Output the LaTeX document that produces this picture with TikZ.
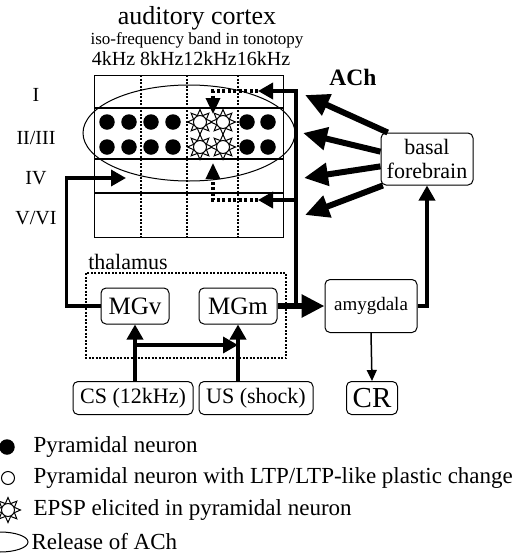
\documentclass[tikz,border=0pt]{standalone}
\usepackage{fontspec}
\setmainfont{Liberation Serif}
\usetikzlibrary{arrows.meta,positioning,calc,shapes.geometric}

\newcommand{\fsz}[1]{\fontsize{#1}{#1}\selectfont}

\begin{document}
\begin{tikzpicture}[x=1pt, y=-1pt,
        box/.style={draw, rounded corners=5pt, fill=white, line width=1pt,
                    inner sep=1pt, align=center},
        arr/.style={-{Triangle[length=15pt, width=16pt]}, line width=3.5pt},
        bigarr/.style={-{Triangle[length=23pt, width=22pt]}, line width=6pt},
        acharr/.style={-{Triangle[length=24pt, width=22pt]}, line width=6pt},
        dotarr/.style={-{Triangle[length=16pt, width=14pt]}, line width=3.5pt,
                       dash pattern=on 3pt off 2.5pt},
        thinarr/.style={-{Triangle[length=11pt, width=10pt]}, line width=1.5pt},
        neuron/.style={circle, fill=black, minimum size=15.5pt, inner sep=0pt},
        ltp/.style={circle, draw, fill=white, line width=1pt, minimum size=13pt, inner sep=0pt},
        spike/.style={star, star points=8, star point ratio=1.8, draw, fill=white,
                      line width=1pt, minimum size=25pt, inner sep=0pt},
        layer/.style={font=\fsz{20}},
        leg/.style={anchor=west, font=\fsz{23}}
      ]
        \useasboundingbox (0,0) rectangle (521,555);

        % cortex
        \node[font=\fsz{26}] (title) at (197,18) {auditory cortex};
        \node[font=\fsz{17}] (iso) at (197,40) {iso-frequency band in tonotopy};
        \node[font=\fsz{20}] (khz) at (191,59) {4kHz 8kHz12kHz16kHz};
        \draw[line width=1pt] (94,75) rectangle (283,237);
        \foreach \y in {108,159,193}
          \draw[line width=1.2pt] (94,\y) -- (283,\y);
        \foreach \x in {141,187,238}
          \draw[line width=1.2pt, dash pattern=on 2pt off 1.5pt] (\x,75) -- (\x,237);
        \draw[line width=1pt] (189,133) ellipse [x radius=106, y radius=48];

        \node[layer] (lI) at (36,95) {I};
        \node[layer] (lII) at (36,138) {II/III};
        \node[layer] (lIV) at (36,178) {IV};
        \node[layer] (lV) at (36,218) {V/VI};

        \foreach \x in {107,129,151,173,247,268}
          \foreach \y in {122,147}
            \node[neuron] (pn\x\y) at (\x,\y) {};
        \foreach \x in {200,223}
          \foreach \y in {122,147} {
            \node[spike] (sp\x\y) at (\x,\y) {};
            \node[ltp] (lt\x\y) at (\x,\y) {};
          }

        % thalamus
        \draw[line width=1.2pt, dash pattern=on 2pt off 1.5pt] (86,273) rectangle (286,358);
        \node[font=\fsz{22}] (thal) at (128,262) {thalamus};
        \node[box, font=\fsz{25}, minimum width=68pt, minimum height=36pt] (MGv) at (135,306) {MGv};
        \node[box, font=\fsz{25}, minimum width=78pt, minimum height=36pt] (MGm) at (238,306) {MGm};
        \node[box, font=\fsz{19}, minimum width=92pt, minimum height=53pt] (amyg) at (371,306) {amygdala};
        \node[box, font=\fontsize{22}{24}\selectfont, minimum width=92pt, minimum height=52pt] (bf) at (427,159) {basal\\forebrain};
        \node[font=\bfseries\fsz{23.5}] (ach) at (353,77) {ACh};

        \node[box, font=\fsz{22}, minimum width=120pt, minimum height=33pt] (CS) at (133,398) {CS (12kHz)};
        \node[box, font=\fsz{22}, minimum width=114pt, minimum height=33pt, right=5pt of CS] (US) {US (shock)};
        \node[box, font=\fsz{29}, minimum width=51pt, minimum height=33pt] (CR) at (372,398) {CR};

        % tips
        \coordinate (iv) at (126,178);
        \coordinate (busb) at (296,306);
        \coordinate (tI) at (258,91);
        \coordinate (tV) at (258,200);
        \coordinate (tII) at (213,114);
        \coordinate (tIV) at (213,163);
        \coordinate (cs2) at (135,345);
        \coordinate (a1) at (305,95);
        \coordinate (a2) at (303,133);
        \coordinate (a3) at (304,178);
        \coordinate (a4) at (305,215);

        \draw[arr] (MGv.west) -- ++(-34,0) |- (iv);
        \draw[arr] (busb) |- (tI);
        \draw[arr] (busb) |- (tV);
        \draw[dotarr] (tI) -- (213,91) -- (tII);
        \draw[dotarr] (tV) -- (213,200) -- (tIV);
        \draw[bigarr] (MGm.east) -- (amyg.west);
        \draw[arr] (amyg.east) -| (bf.south);
        \draw[thinarr] (amyg.south) -- (CR.north);
        \draw[arr] (CS.north -| MGv.south) -- (MGv.south);
        \draw[arr] (US.north -| MGm.south) -- (MGm.south);
        \draw[arr] (cs2) -- (cs2 -| MGm.south);

        \draw[acharr] (bf.146) -- (a1);
        \draw[acharr] (bf.171) -- (a2);
        \draw[acharr] (bf.189) -- (a3);
        \draw[acharr] (bf.211) -- (a4);

        % legend
        \node[neuron] (kn1) at (7,447) {};
        \node[leg] (kt1) at (30,447) {Pyramidal neuron};
        \node[ltp] (kn2) at (8,478) {};
        \node[leg] (kt2) at (30,478) {Pyramidal neuron with LTP/LTP-like plastic change};
        \node[spike] (kn3) at (8,510) {};
        \node[ltp] (kn3b) at (8,510) {};
        \node[leg] (kt3) at (30,510) {EPSP elicited in pyramidal neuron};
        \draw[line width=1pt] (0,532) arc[start angle=-90, end angle=90, x radius=28, y radius=10];
        \node[leg] (kt4) at (28,542) {Release of ACh};
      \end{tikzpicture}
\end{document}
